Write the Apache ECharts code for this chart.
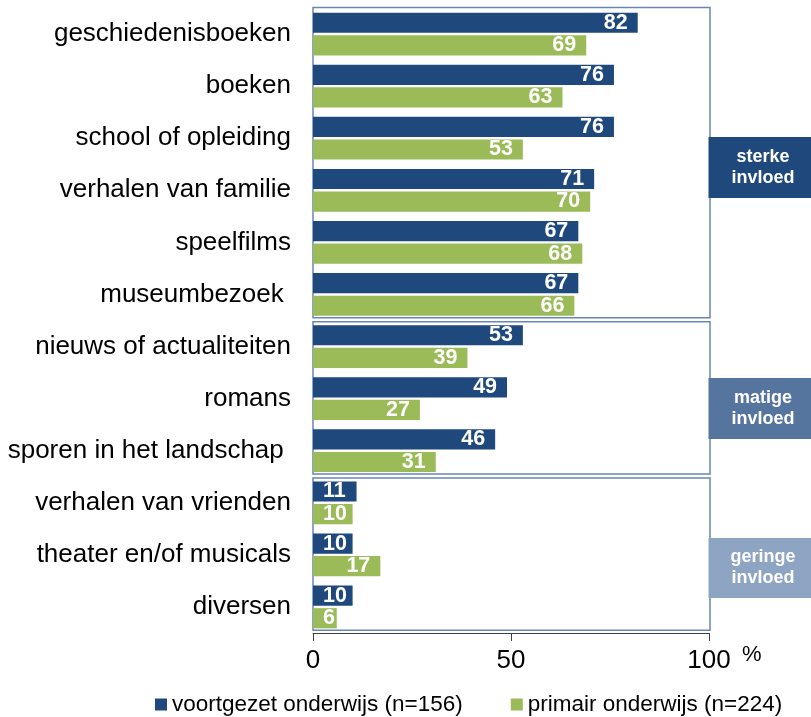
<!DOCTYPE html>
<html>
<head>
<meta charset="utf-8">
<script src="https://cdn.jsdelivr.net/npm/echarts@6/dist/echarts.min.js"></script>
<style>html,body{margin:0;padding:0;background:#fff}#c{width:811px;height:717px}</style>
</head>
<body>
<div id="c"></div>
<script>
const categories = ['geschiedenisboeken','boeken','school of opleiding','verhalen van familie','speelfilms','museumbezoek ','nieuws of actualiteiten','romans','sporen in het landschap ','verhalen van vrienden','theater en/of musicals','diversen'];
const voortgezet = [82,76,76,71,67,67,53,49,46,11,10,10];
const primair = [69,63,53,70,68,66,39,27,31,10,17,6];
const seriesNames = ['voortgezet onderwijs (n=156)','primair onderwijs (n=224)'];
const groups = [
  {label:'sterke\ninvloed', from:0, to:5},
  {label:'matige\ninvloed', from:6, to:8},
  {label:'geringe\ninvloed', from:9, to:11}
];
const xTicks = [0,50,100];

const FONT = 'Arial, "Liberation Sans", sans-serif';
const BLUE = '#1F497D', GREEN = '#9BBB59';

function mk(vals){
  return vals.map(v => ({
    value: v,
    label: v < 15 ? {position:'insideLeft', distance:10} : {position:'insideRight', distance:10}
  }));
}
const labelStyle = {show:true, color:'#fff', fontWeight:'bold', fontSize:21.5, fontFamily:FONT};

const chart = echarts.init(document.getElementById('c'));
chart.setOption({
  animation:false,
  grid:{left:313, right:102, top:8, bottom:84},
  legend:{
    data:seriesNames, left:150, top:688, itemWidth:12, itemHeight:12, itemGap:48,
    icon:'rect', textStyle:{fontSize:22.5, fontFamily:FONT, color:'#000'}
  },
  xAxis:{
    type:'value', min:xTicks[0], max:xTicks[xTicks.length-1], interval:50,
    splitLine:{show:false},
    axisLine:{show:true, lineStyle:{color:'#404040', width:1}},
    axisTick:{show:true, length:8, lineStyle:{color:'#404040'}},
    axisLabel:{fontSize:26, fontFamily:FONT, color:'#000', margin:15}
  },
  yAxis:{
    type:'category', inverse:true, data:categories,
    axisLine:{show:false}, axisTick:{show:false},
    axisLabel:{fontSize:26, fontFamily:FONT, color:'#000', margin:22}
  },
  series:[
    {name:seriesNames[0], type:'bar', data:mk(voortgezet), itemStyle:{color:BLUE},
     barCategoryGap:'18%', barGap:'12%', label:labelStyle},
    {name:seriesNames[1], type:'bar', data:mk(primair), itemStyle:{color:GREEN},
     barCategoryGap:'18%', barGap:'12%', label:labelStyle}
  ]
});

// group boxes computed from the category axis
const c0 = chart.convertToPixel({yAxisIndex:0}, categories[0]);
const c1 = chart.convertToPixel({yAxisIndex:0}, categories[1]);
const band = c1 - c0;
const xL = chart.convertToPixel({xAxisIndex:0}, 0);
const xR = chart.convertToPixel({xAxisIndex:0}, 100);
const boxFill = ['#1F497D','#55759F','#8EA4C3'];
const boxTop = [137, 378, 538];
const boxH = [61, 61, 60];
const graphics = [];
groups.forEach((g, i) => {
  const start = chart.convertToPixel({yAxisIndex:0}, categories[g.from]) - band/2;
  const end = chart.convertToPixel({yAxisIndex:0}, categories[g.to]) + band/2;
  const top = i === 0 ? start - 0.5 : start + 1.2;
  const bottom = end - 2.8;
  graphics.push({
    type:'rect', z:0, silent:true,
    shape:{x:xL, y:top, width:xR - xL + 1, height:bottom - top},
    style:{fill:'none', stroke:'#6A86B2', lineWidth:1.5}
  });
  graphics.push({
    type:'rect', z:1, silent:true,
    shape:{x:xR - 0.5, y:boxTop[i], width:811 - xR + 1, height:boxH[i]},
    style:{fill:boxFill[i]}
  });
  graphics.push({
    type:'text', z:2, silent:true,
    style:{text:g.label, x:(xR + 811)/2 + 3, y:boxTop[i] + boxH[i]/2, align:'center', verticalAlign:'middle',
      fill:'#fff', font:'bold 18px ' + FONT, lineHeight:21}
  });
});
graphics.push({
  type:'text', z:2, silent:true,
  style:{text:'%', x:742, y:644, fill:'#000', font:'22px ' + FONT}
});
chart.setOption({graphic:graphics});
</script>
</body>
</html>
